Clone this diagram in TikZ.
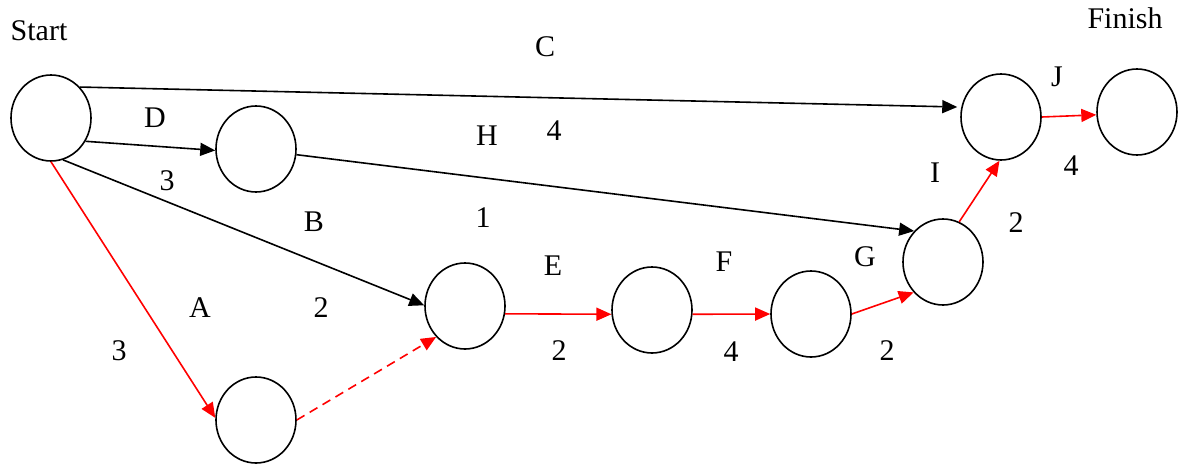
\documentclass[tikz,border=0pt]{standalone}
\usepackage{fontspec}
\setmainfont{Liberation Serif}
\usetikzlibrary{shapes.geometric,arrows.meta}
\begin{document}
\begin{tikzpicture}[x=1pt,y=-1pt,
  ev/.style={draw,ellipse,line width=1.6pt,minimum width=80pt,minimum height=86pt,inner sep=0pt},
  lbl/.style={inner sep=0pt,anchor=center,font=\fontsize{30}{36}\selectfont},
  blk/.style={draw=black,line width=1.6pt,-{Triangle[length=15pt,width=13pt]}},
  crit/.style={draw=red,line width=1.6pt,-{Triangle[length=15pt,width=13pt]}}]
\useasboundingbox (0,0) rectangle (1182,468);
% events
\node[ev] (S) at (51,118) {};
\node[ev] (D) at (256,149) {};
\node[ev] (L) at (256,420) {};
\node[ev] (E) at (465,306) {};
\node[ev] (F) at (652,310) {};
\node[ev] (G) at (811,314) {};
\node[ev] (I) at (943,262) {};
\node[ev] (J) at (1001,117) {};
\node[ev] (Fin) at (1137,112) {};
% titles
\node[lbl] (tS) at (39,31) {Start};
\node[lbl] (tF) at (1125,18) {Finish};
% activity labels
\node[lbl] (lC) at (545,47) {C};
\node[lbl] (lD) at (155,118) {D};
\node[lbl] (dD) at (167,181) {3};
\node[lbl] (lB) at (314,222) {B};
\node[lbl] (lH) at (487,136) {H};
\node[lbl] (dC) at (554,131) {4};
\node[lbl] (dH) at (483,218) {1};
\node[lbl] (lA) at (200,308) {A};
\node[lbl] (dB) at (321,308) {2};
\node[lbl] (dA) at (119,351) {3};
\node[lbl] (lE) at (553,266) {E};
\node[lbl] (dE) at (559,351) {2};
\node[lbl] (lF) at (724,262) {F};
\node[lbl] (dF) at (731,352) {4};
\node[lbl] (lG) at (865,257) {G};
\node[lbl] (dG) at (887,351) {2};
\node[lbl] (lI) at (935,173) {I};
\node[lbl] (dI) at (1016,223) {2};
\node[lbl] (lJ) at (1057,77) {J};
\node[lbl] (dJ) at (1071,166) {4};
% black activities
\draw[blk,shorten >=4pt] (S.47) -- (J.166);
\draw[blk] (S.-34) -- (D.182);
\draw[blk] (S.-74) -- (E.179);
\draw[blk] (D.-8) -- (I.133);
% critical path
\draw[crit] (S.-90) -- (L.177);
\draw[crit,dash pattern=on 9pt off 6pt] (L.east) -- (E.-133);
\draw[crit] (E.-11) -- (F.186);
\draw[crit] (F.-6) -- (G.180);
\draw[crit] (G.east) -- (I.-134);
\draw[crit] (I.68) -- (J.-92);
\draw[crit] (J.east) -- (Fin.184);
\end{tikzpicture}
\end{document}
